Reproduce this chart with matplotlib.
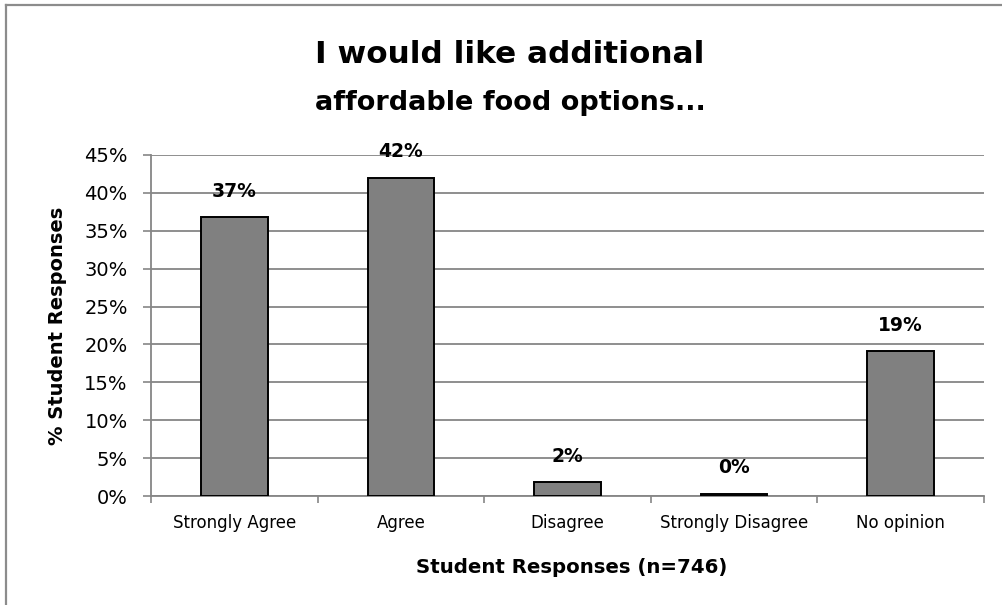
import matplotlib
matplotlib.use("Agg")
import matplotlib.pyplot as plt
from matplotlib.lines import Line2D

categories = ["Strongly Agree", "Agree", "Disagree", "Strongly Disagree", "No opinion"]
values = [36.8, 42.0, 1.8, 0.3, 19.1]
labels = ["37%", "42%", "2%", "0%", "19%"]
yticks = [0, 5, 10, 15, 20, 25, 30, 35, 40, 45]

plt.rcParams['font.family'] = ['DejaVu Sans']

W, H = 1003, 605
fig = plt.figure(figsize=(W / 100, H / 100), dpi=100)
# plot area: x 151..984 px, y 155..496 px
ax = fig.add_axes([151 / W, 1 - 496 / H, 833 / W, 341 / H])

grid_c = "#868686"
x = list(range(len(categories)))
ax.bar(x, values, width=0.40, color="#808080", edgecolor="black", linewidth=1.4, zorder=3)

for xi, v, lab in zip(x, values, labels):
    ax.annotate(lab, (xi, v), xytext=(0, 18.7), textcoords="offset points",
                ha="center", va="center", fontsize=13.5, fontweight="bold", zorder=4)

ax.set_xlim(-0.5, len(categories) - 0.5)
ax.set_ylim(0, 45)
ax.set_yticks(yticks)
ax.set_yticklabels([f"{t}%" for t in yticks], fontsize=14)
ax.yaxis.grid(True, color=grid_c, linewidth=1.3, zorder=0)
ax.set_axisbelow(True)

ax.set_xticks(x)
ax.set_xticklabels(categories, fontsize=12)
ax.set_xticks([i + 0.5 for i in range(-1, len(categories))], minor=True)
ax.tick_params(axis="x", which="major", length=0, pad=13)
ax.tick_params(axis="x", which="minor", length=5, width=1.2, color=grid_c)
ax.tick_params(axis="y", length=5.8, width=1.2, color=grid_c, pad=11)

for side in ["top", "right"]:
    ax.spines[side].set_visible(False)
for side in ["left", "bottom"]:
    ax.spines[side].set_color(grid_c)
    ax.spines[side].set_linewidth(1.3)

ax.set_xlabel("Student Responses (n=746)", fontsize=14.2, fontweight="bold")
ax.xaxis.label.set_va("baseline")
ax.xaxis.set_label_coords((572 - 151) / 833, -(573 - 496) / 341)

ax.set_ylabel("% Student Responses", fontsize=14, fontweight="bold")
ax.yaxis.label.set_va("center")
ax.yaxis.set_label_coords((58 - 151) / 833, 0.5)

fig.text(510 / W, 1 - 63 / H, "I would like additional", ha="center", va="baseline",
         fontsize=22.4, fontweight="bold")
fig.text(510 / W, 1 - 110 / H, "affordable food options...", ha="center", va="baseline",
         fontsize=19.5, fontweight="bold")

# outer chart border
border_c = "#8c8c8c"
fig.add_artist(Line2D([6 / W, 6 / W], [0, 1 - 4.5 / H], transform=fig.transFigure,
                      color=border_c, linewidth=1.6))
fig.add_artist(Line2D([6 / W, 1], [1 - 4.5 / H, 1 - 4.5 / H], transform=fig.transFigure,
                      color=border_c, linewidth=1.6))

fig.savefig("out.png", dpi=100)
